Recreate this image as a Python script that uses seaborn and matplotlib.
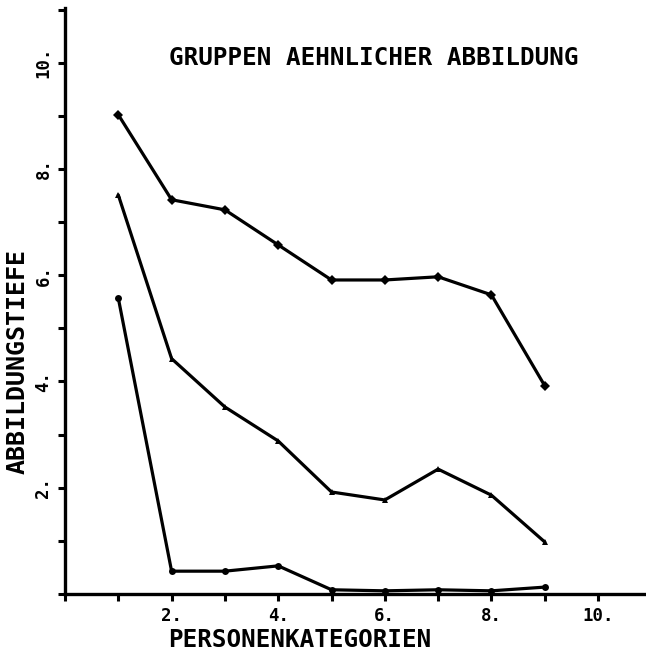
import pandas as pd
import seaborn as sns
import matplotlib.pyplot as plt
import matplotlib.ticker as ticker

# --- DATEN ---
KATEGORIEN = [1, 2, 3, 4, 5, 6, 7, 8, 9]
OBEN = [9.02, 7.42, 7.23, 6.57, 5.91, 5.91, 5.97, 5.63, 3.92]
MITTE = [7.51, 4.43, 3.52, 2.88, 1.92, 1.77, 2.35, 1.86, 0.98]
UNTEN = [5.57, 0.43, 0.43, 0.53, 0.08, 0.06, 0.08, 0.06, 0.13]
GRUPPEN = ["oben", "mitte", "unten"]
X_TICKS = [2, 4, 6, 8, 10]
Y_TICKS = [2, 4, 6, 8, 10]

sns.set_theme(style="ticks")
plt.rcParams['font.family'] = ['DejaVu Sans Mono', 'DejaVu Sans']
plt.rcParams['font.weight'] = 'bold'
plt.rcParams['text.color'] = 'black'
plt.rcParams['xtick.color'] = 'black'
plt.rcParams['ytick.color'] = 'black'

df = pd.DataFrame({
    'Kategorie': KATEGORIEN * 3,
    'Tiefe': OBEN + MITTE + UNTEN,
    'Gruppe': [g for g in GRUPPEN for _ in KATEGORIEN],
})

fig = plt.figure(figsize=(6.46, 6.59), dpi=100)
ax = fig.add_axes([0.1006, 0.0986, 0.8994, 0.8894])

sns.lineplot(data=df, x='Kategorie', y='Tiefe', hue='Gruppe', style='Gruppe',
             palette={g: 'black' for g in GRUPPEN},
             markers={'oben': 'D', 'mitte': '^', 'unten': 'o'},
             dashes=False, linewidth=2.3, markersize=5, markeredgewidth=0,
             legend=False, ax=ax)

ax.set_xlim(0, 10.9)
ax.set_ylim(0, 11.03)
sns.despine(ax=ax)
for s in ['left', 'bottom']:
    ax.spines[s].set_linewidth(2.4)
    ax.spines[s].set_color('black')

ax.xaxis.set_major_locator(ticker.FixedLocator(X_TICKS))
ax.xaxis.set_minor_locator(ticker.MultipleLocator(1))
ax.yaxis.set_major_locator(ticker.FixedLocator(Y_TICKS))
ax.yaxis.set_minor_locator(ticker.MultipleLocator(1))
ax.set_xticklabels([f"{t}." for t in X_TICKS])
ax.set_yticklabels([f"{t}." for t in Y_TICKS], rotation=90, va='center')
ax.tick_params(which='both', direction='out', length=5, width=2.2, color='black',
               labelsize=12.5, pad=4, labelcolor='black')

ax.set_xlabel("")
ax.set_ylabel("")

fig.text(0.578, 0.912, "GRUPPEN AEHNLICHER ABBILDUNG", ha='center', va='center',
         fontsize=17.5, fontweight='bold', color='black')
fig.text(0.464, 0.029, "PERSONENKATEGORIEN", ha='center', va='center',
         fontsize=17.5, fontweight='bold', color='black')
fig.text(0.027, 0.451, "ABBILDUNGSTIEFE", ha='center', va='center', rotation=90,
         fontsize=18, fontweight='bold', color='black')

plt.savefig("out.png", dpi=100)
